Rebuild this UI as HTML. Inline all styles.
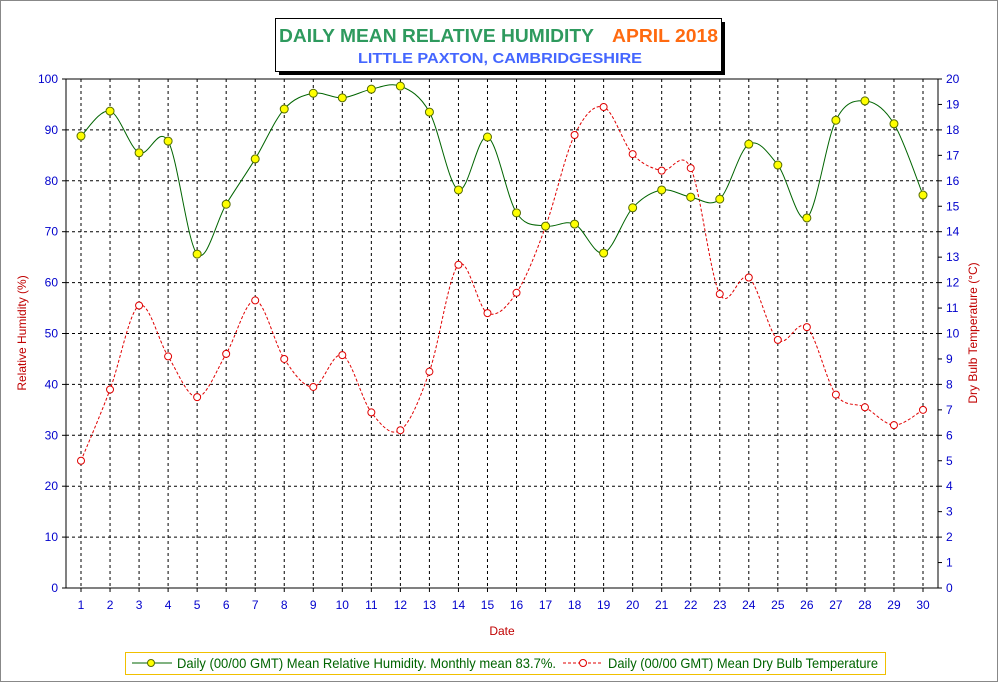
<!DOCTYPE html>
<html><head><meta charset="utf-8"><style>
body{margin:0;background:#fff;}
svg{display:block;font-family:"Liberation Sans",Arial,sans-serif;}
</style></head><body>
<svg id="chart" width="999" height="683" viewBox="0 0 999 683">
<rect x="0.5" y="0.5" width="997" height="681" fill="#fff" stroke="#888"/>
<g>
<rect x="279" y="22" width="446" height="53" fill="#000"/>
<rect x="275.5" y="18.5" width="446" height="53" fill="#fff" stroke="#000"/>
<text x="279" y="42" font-size="18" font-weight="bold" fill="#2e9a5e" textLength="315" lengthAdjust="spacingAndGlyphs">DAILY MEAN RELATIVE HUMIDITY</text>
<text x="612" y="42" font-size="18" font-weight="bold" fill="#ff6a10" textLength="106" lengthAdjust="spacingAndGlyphs">APRIL 2018</text>
<text x="358" y="63" font-size="15" font-weight="bold" fill="#4466ff" textLength="284" lengthAdjust="spacingAndGlyphs">LITTLE PAXTON, CAMBRIDGESHIRE</text>
</g>
<g id="grid"></g>
<g id="axes"></g>
<g id="series"></g>
<text x="502" y="635" text-anchor="middle" font-size="12" fill="#c00000">Date</text>
<text transform="translate(26,333) rotate(-90)" text-anchor="middle" font-size="12" fill="#c00000">Relative Humidity (%)</text>
<text transform="translate(977,333) rotate(-90)" text-anchor="middle" font-size="12" fill="#c00000">Dry Bulb Temperature (°C)</text>
<g>
<rect x="125.5" y="652.5" width="760" height="22" fill="#fff" stroke="#f0c000"/>
<line x1="132" y1="663" x2="172" y2="663" stroke="#006400"/>
<circle cx="151" cy="663" r="3.5" fill="#ffff00" stroke="#556b00"/>
<text x="177" y="668" font-size="14" fill="#006400" textLength="379" lengthAdjust="spacingAndGlyphs">Daily (00/00 GMT) Mean Relative Humidity. Monthly mean 83.7%.</text>
<line x1="563" y1="663" x2="603" y2="663" stroke="#e00000" stroke-dasharray="3,2"/>
<circle cx="583" cy="663" r="3.5" fill="#fff" stroke="#e00000"/>
<text x="608" y="668" font-size="14" fill="#006400" textLength="270" lengthAdjust="spacingAndGlyphs">Daily (00/00 GMT) Mean Dry Bulb Temperature</text>
</g>
</svg>
<script>
const days=[1,2,3,4,5,6,7,8,9,10,11,12,13,14,15,16,17,18,19,20,21,22,23,24,25,26,27,28,29,30];
const humidity=[88.8,93.7,85.5,87.8,65.6,75.4,84.3,94.1,97.2,96.3,98.0,98.6,93.5,78.2,88.6,73.7,71.1,71.5,65.8,74.7,78.2,76.8,76.4,87.2,83.1,72.7,91.9,95.7,91.2,77.2];
const temperature=[5.0,7.8,11.1,9.1,7.5,9.2,11.3,9.0,7.9,9.15,6.9,6.2,8.5,12.7,10.8,11.6,14.2,17.8,18.9,17.05,16.4,16.5,11.55,12.2,9.75,10.25,7.6,7.1,6.4,7.0];
const leftTicks=[0,10,20,30,40,50,60,70,80,90,100];
const rightTicks=[0,1,2,3,4,5,6,7,8,9,10,11,12,13,14,15,16,17,18,19,20];
const NS="http://www.w3.org/2000/svg";
const L=66,R=938,T=79,B=588;
const xs=d=>81+(d-1)*(923-81)/29;
const yL=v=>B-(v/100)*(B-T);
const yR=v=>B-(v/20)*(B-T);
function mk(tag,a,p){const e=document.createElementNS(NS,tag);for(const k in a)e.setAttribute(k,a[k]);p.appendChild(e);return e;}
const grid=document.getElementById('grid'),axes=document.getElementById('axes'),ser=document.getElementById('series');
mk('rect',{x:L,y:T,width:R-L,height:B-T,fill:'#fff',stroke:'#000'},grid);
days.forEach(d=>{
 const g=mk('line',{x1:xs(d),x2:xs(d),y1:T,y2:B,stroke:'#000','stroke-dasharray':'3,3'},grid);
 
 
 const t=mk('text',{x:xs(d),y:609,'text-anchor':'middle','font-size':12,fill:'#0000cc'},axes);t.textContent=d;
 
 
 mk('line',{x1:xs(d),x2:xs(d),y1:B,y2:B+4,stroke:'#000'},axes);
});
leftTicks.forEach(v=>{
 if(v>0&&v<100){const g=mk('line',{x1:L,x2:R,y1:yL(v),y2:yL(v),stroke:'#000','stroke-dasharray':'3,3'},grid);
 
 }
 const t=mk('text',{x:L-8,y:yL(v)+4,'text-anchor':'end','font-size':12,fill:'#0000cc'},axes);t.textContent=v;
 
 
 mk('line',{x1:L-4,x2:L,y1:yL(v),y2:yL(v),stroke:'#000'},axes);
});
rightTicks.forEach(v=>{
 const t=mk('text',{x:R+8,y:yR(v)+4,'text-anchor':'start','font-size':12,fill:'#0000cc'},axes);t.textContent=v;
 
 
 mk('line',{x1:R,x2:R+4,y1:yR(v),y2:yR(v),stroke:'#000'},axes);
});
function smooth(pts){let d='M'+pts[0][0]+','+pts[0][1];
 for(let i=0;i<pts.length-1;i++){const p0=pts[i-1]||pts[i],p1=pts[i],p2=pts[i+1],p3=pts[i+2]||p2;
  d+=' C'+(p1[0]+(p2[0]-p0[0])/6)+','+(p1[1]+(p2[1]-p0[1])/6)+' '+(p2[0]-(p3[0]-p1[0])/6)+','+(p2[1]-(p3[1]-p1[1])/6)+' '+p2[0]+','+p2[1];}
 return d;}
const hp=days.map((d,i)=>[xs(d),yL(humidity[i])]);
const tp=days.map((d,i)=>[xs(d),yR(temperature[i])]);
const tl=mk('path',{d:smooth(tp),fill:'none',stroke:'#e00000','stroke-dasharray':'3,2'},ser);


const hl=mk('path',{d:smooth(hp),fill:'none',stroke:'#006400'},ser);


tp.forEach(p=>{const c=mk('circle',{cx:p[0],cy:p[1],r:3.5,fill:'#fff',stroke:'#e00000'},ser);
 
 });
hp.forEach(p=>{const c=mk('circle',{cx:p[0],cy:p[1],r:4,fill:'#ffff00',stroke:'#556b00'},ser);
 
 });
</script>
</body></html>
